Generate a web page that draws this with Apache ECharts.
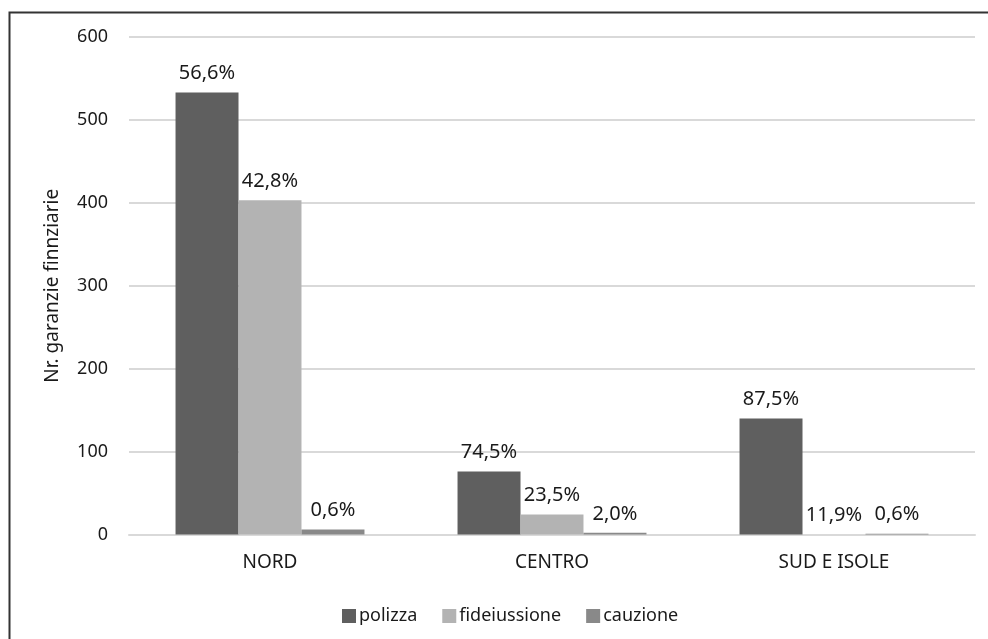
<!DOCTYPE html>
<html>
<head>
<meta charset="utf-8">
<script src="https://cdn.jsdelivr.net/npm/echarts@6/dist/echarts.min.js"></script>
<style>
  html, body { margin: 0; padding: 0; background: #ffffff; }
  #chart { width: 988px; height: 639px; }
</style>
</head>
<body>
<div id="chart"></div>
<script>
// Regions on the category axis
const categories = ['NORD', 'CENTRO', 'SUD E ISOLE'];

// Number of financial guarantees per type and region
const polizza = [533, 76, 140];
const fideiussione = [403, 24, 0];
const cauzione = [6, 2, 1];

// Share of each type within its region, shown above the bars
const polizzaPct = ['56,6%', '74,5%', '87,5%'];
const fideiussionePct = ['42,8%', '23,5%', '11,9%'];
const cauzionePct = ['0,6%', '2,0%', '0,6%'];

// Value axis ticks
const yTicks = [0, 100, 200, 300, 400, 500, 600];

const FONT = 'Noto Sans';
const TEXT = '#1a1a1a';

function barSeries(name, values, labels, color) {
  return {
    name: name,
    type: 'bar',
    data: values,
    barGap: '0%',
    barCategoryGap: '33%',
    itemStyle: { color: color },
    label: {
      show: true,
      position: 'top',
      distance: 9,
      fontFamily: FONT,
      fontSize: 20,
      color: TEXT,
      formatter: p => labels[p.dataIndex]
    }
  };
}

const chart = echarts.init(document.getElementById('chart'), null, { renderer: 'canvas' });
chart.setOption({
  animation: false,
  backgroundColor: '#ffffff',
  textStyle: { fontFamily: FONT },
  graphic: [{
    type: 'rect',
    left: 7, top: 10,
    shape: { x: 0, y: 0, width: 1100, height: 800 },
    style: { fill: 'none', stroke: '#333333', lineWidth: 2 },
    silent: true
  }],
  grid: { left: 129, right: 13, top: 37, bottom: 104.5, containLabel: false },
  legend: {
    data: ['polizza', 'fideiussione', 'cauzione'],
    left: 337,
    top: 602,
    icon: 'rect',
    itemWidth: 14,
    itemHeight: 14,
    itemGap: 25,
    textStyle: { fontFamily: FONT, fontSize: 18, color: TEXT, padding: [0, 0, 0, -2] }
  },
  xAxis: {
    type: 'category',
    data: categories,
    axisTick: { show: false },
    axisLine: { lineStyle: { color: '#d9d9d9', width: 2 } },
    axisLabel: { fontFamily: FONT, fontSize: 19, color: TEXT, margin: 19 }
  },
  yAxis: {
    type: 'value',
    min: yTicks[0],
    max: yTicks[yTicks.length - 1],
    interval: yTicks[1] - yTicks[0],
    name: 'Nr. garanzie finnziarie',
    nameLocation: 'middle',
    nameGap: 67,
    nameRotate: 90,
    nameTextStyle: { fontFamily: FONT, fontSize: 19, color: TEXT },
    axisLine: { show: false },
    axisTick: { show: false },
    axisLabel: { fontFamily: FONT, fontSize: 18, color: TEXT, margin: 21 },
    splitLine: { lineStyle: { color: '#d9d9d9', width: 2 } }
  },
  series: [
    barSeries('polizza', polizza, polizzaPct, '#5f5f5f'),
    barSeries('fideiussione', fideiussione, fideiussionePct, '#b3b3b3'),
    barSeries('cauzione', cauzione, cauzionePct, '#898989')
  ]
});
</script>
</body>
</html>
